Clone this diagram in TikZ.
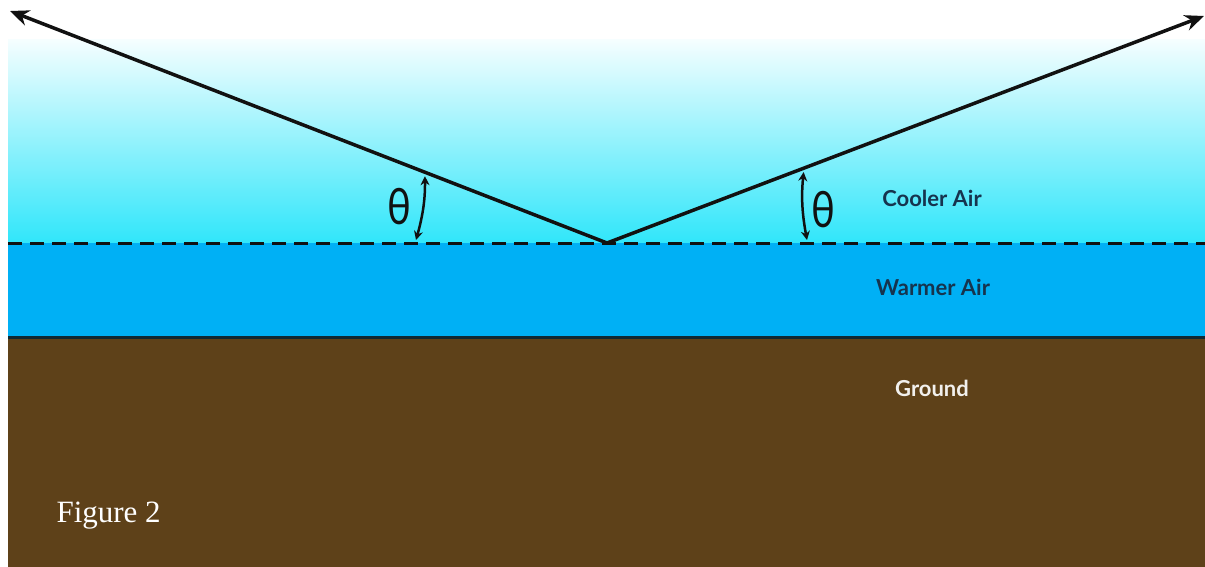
\documentclass[tikz,border=0pt]{standalone}
\usepackage{fontspec}
\setmainfont{Lato}
\newfontfamily\figfont{Liberation Serif}
\usetikzlibrary{positioning,calc,arrows.meta}
\definecolor{skyCool}{HTML}{30E6FA}
\definecolor{airWarm}{HTML}{00B0F5}
\definecolor{groundBrown}{HTML}{5E4119}
\definecolor{labelNavy}{HTML}{16344E}
\definecolor{rayBlack}{HTML}{111111}

\begin{document}
\begin{tikzpicture}[x=1pt, y=-1pt,
  ray/.style={rayBlack, line width=3.5pt, -{Stealth[length=19pt,width=16pt]}},
  anglemark/.style={rayBlack, line width=2.5pt, {Stealth[length=9pt,width=9pt]}-{Stealth[length=9pt,width=9pt]}},
  bandlabel/.style={font=\fontsize{22}{24}\selectfont\bfseries},
  thetalabel/.style={font=\fontsize{50}{52}\selectfont, rayBlack, xscale=0.8}]

% --- PARAMETERS ---
\def\xL{8}          % left edge of the bands
\def\xR{1205}       % right edge
\def\yTop{40}       % top of cooler air
\def\yDash{243}     % boundary cool / warm
\def\yGround{337}   % top of ground
\def\yBot{567}      % bottom

\useasboundingbox (0,0) rectangle (1205,567);

% --- BANDS ---
\shade[top color=skyCool!5, bottom color=skyCool] (\xL,\yTop) rectangle (\xR,\yDash);
\fill[airWarm] (\xL,\yDash) rectangle (\xR,\yGround);
\fill[groundBrown] (\xL,\yGround) rectangle (\xR,\yBot);
\draw[rayBlack!85!airWarm, line width=3pt] (\xL,\yGround) -- (\xR,\yGround);
\draw[rayBlack, line width=3pt, dash pattern=on 14pt off 8pt] (\xL,\yDash) -- (\xR,\yDash);

% --- RAYS ---
\coordinate (vertex) at (607,\yDash);
\coordinate (tipL) at (10,11);
\coordinate (tipR) at (1204,16);
\draw[ray] (vertex) -- (tipL);
\draw[ray] (vertex) -- (tipR);

% --- ANGLES ---
\coordinate (angL) at ($(vertex)!0.305!(tipL)$);
\coordinate (angLb) at (416,\yDash-3);
\coordinate (angR) at ($(vertex)!0.33!(tipR)$);
\coordinate (angRb) at (807,\yDash-3);
\draw[anglemark, shorten <=4pt] (angL) to[bend left=8] (angLb);
\draw[anglemark, shorten <=4pt] (angR) to[bend right=8] (angRb);
\node[thetalabel] (thetaL) at (399,207) {θ};
\node[thetalabel] (thetaR) at (823,210) {θ};

% --- LABELS ---
\node[bandlabel, labelNavy] (cooler) at (932,198) {Cooler Air};
\node[bandlabel, labelNavy] (warmer) at (933,287) {Warmer Air};
\node[bandlabel, white!92!groundBrown] (ground) at (932,388) {Ground};
\node[font=\figfont\fontsize{31}{34}\selectfont, white, anchor=west] (fig) at (53,516) {Figure 2};

\end{tikzpicture}
\end{document}
